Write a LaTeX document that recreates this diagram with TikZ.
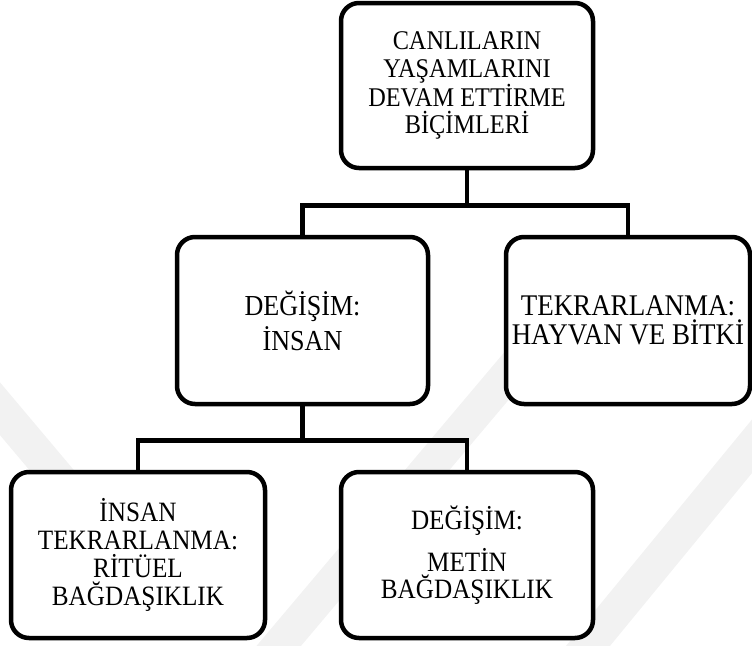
\documentclass[tikz,border=0pt]{standalone}
\usepackage{fontspec}
\setmainfont{Liberation Serif}[FakeStretch=0.9]
\begin{document}
\begin{tikzpicture}[x=1pt,y=-1pt,
  box/.style={draw=black, line width=4.5pt, rounded corners=18pt, fill=white,
    align=center, inner sep=0pt, font=\fontsize{27}{27.5}\selectfont},
  link/.style={draw=black, line width=4.5pt},
  wmark/.style={draw=black!5, line width=34pt}]
\useasboundingbox (0,0) rectangle (752,645);
\begin{scope}
\clip (0,0) rectangle (752,645);
\coordinate (w1a) at (-20,385); \coordinate (w1b) at (140,575);
\coordinate (w2a) at (250,680); \coordinate (w2b) at (520,360);
\coordinate (w3a) at (560,680); \coordinate (w3b) at (790,400);
\draw[wmark] (w1a) -- (w1b);
\draw[wmark] (w2a) -- (w2b);
\draw[wmark] (w3a) -- (w3b);
\end{scope}
\node[box, minimum width=252pt, minimum height=165pt] (top) at (467,85.5)
  {CANLILARIN\\YAŞAMLARINI\\DEVAM ETTİRME\\BİÇİMLERİ};
\node[box, minimum width=251pt, minimum height=167pt,
  font=\fontsize{29}{28}\selectfont] (ml) at (302.5,320.5)
  {DEĞİŞİM:\\[4pt]İNSAN};
\node[box, minimum width=244pt, minimum height=167pt,
  font=\fontsize{30}{28.5}\selectfont] (mr) at (628,320.5)
  {TEKRARLANMA:\\HAYVAN VE BİTKİ};
\node[box, minimum width=254pt, minimum height=166pt,
  font=\fontsize{28}{28}\selectfont] (bl) at (138,555)
  {İNSAN\\TEKRARLANMA:\\RİTÜEL\\BAĞDAŞIKLIK};
\node[box, minimum width=252pt, minimum height=166pt,
  font=\fontsize{28}{28}\selectfont] (br) at (467,555)
  {DEĞİŞİM:\\[12pt]METİN\\[-1.5pt]BAĞDAŞIKLIK};
\draw[link] (top.south) -- ++(0,35) coordinate (j1);
\draw[link] (ml.north) |- (j1) -| (mr.north);
\draw[link] (ml.south) -- ++(0,34) coordinate (j2);
\draw[link] (bl.north) |- (j2) -| (br.north);
\end{tikzpicture}
\end{document}
